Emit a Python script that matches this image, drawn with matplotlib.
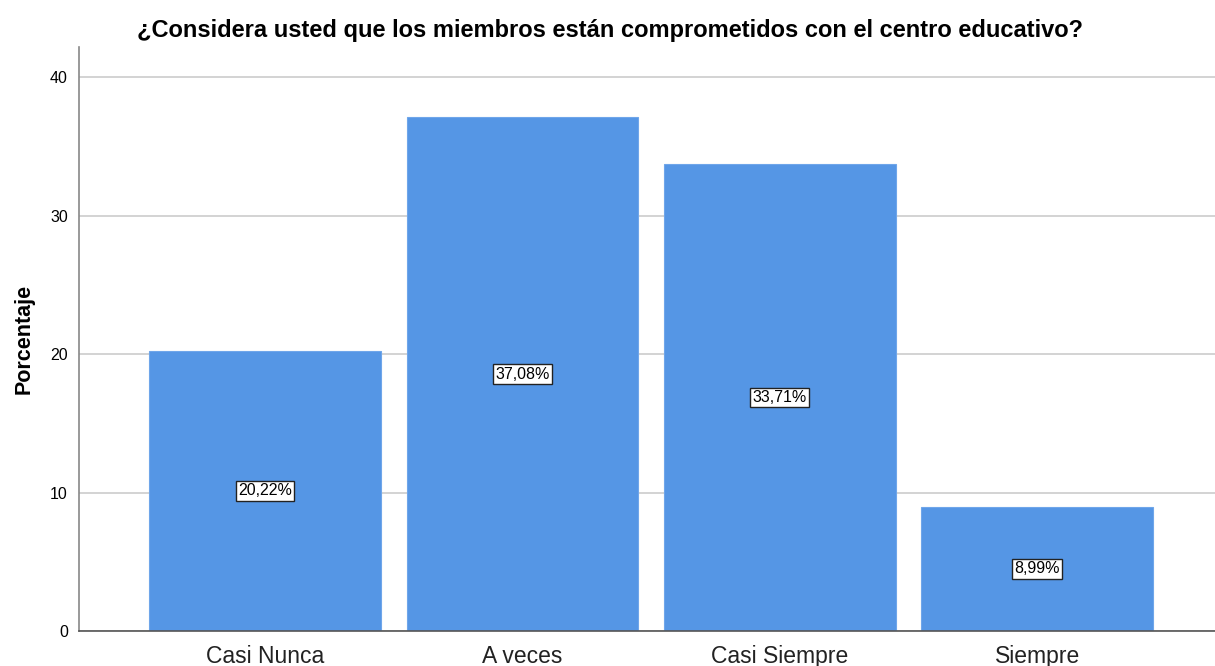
import matplotlib
matplotlib.use("Agg")
import matplotlib.pyplot as plt

categories = ["Casi Nunca", "A veces", "Casi Siempre", "Siempre"]
values = [20.22, 37.08, 33.71, 8.99]
labels = ["20,22%", "37,08%", "33,71%", "8,99%"]
yticks = [0, 10, 20, 30, 40]

plt.rcParams['font.family'] = ['Liberation Sans', 'DejaVu Sans']

fig = plt.figure(figsize=(12.15, 6.66), dpi=100)
ax = fig.add_axes([79/1215, 1-631/666, (1215-79)/1215, (631-47)/666])

x = list(range(len(categories)))
ax.bar(x, values, width=0.9, color="#5596E5", edgecolor="#6fa6ea", linewidth=0.8, zorder=2)
for xi, v, lab in zip(x, values, labels):
    ax.text(xi, v/2, lab, ha="center", va="center", fontsize=11.5, zorder=3,
            bbox=dict(boxstyle="square,pad=0.15", facecolor="white", edgecolor="#222222", linewidth=1.0))

ax.set_xlim(-0.722, 3.69)
ax.set_ylim(0, 42.17)
ax.set_yticks(yticks)
ax.set_yticklabels([str(t) for t in yticks], fontsize=11.5)
ax.set_xticks(x)
ax.set_xticklabels(categories, fontsize=16.5, color="#222222")
ax.tick_params(axis="x", length=0, pad=10)
ax.tick_params(axis="y", length=0, pad=8)
ax.yaxis.grid(True, color="#d0d0d0", linewidth=1.3, zorder=0)
ax.set_axisbelow(True)
for s in ["top", "right"]:
    ax.spines[s].set_visible(False)
ax.spines["left"].set_color("#888888")
ax.spines["bottom"].set_color("#555555")
ax.spines["left"].set_linewidth(1.2)
ax.spines["bottom"].set_linewidth(1.2)

ax.set_ylabel("Porcentaje", fontsize=15.5, fontweight="bold", labelpad=11)
fig.text(610/1215, 1-30/666, "¿Considera usted que los miembros están comprometidos con el centro educativo?",
         ha="center", va="center", fontsize=17, fontweight="bold")

fig.savefig("out.png", dpi=100)
